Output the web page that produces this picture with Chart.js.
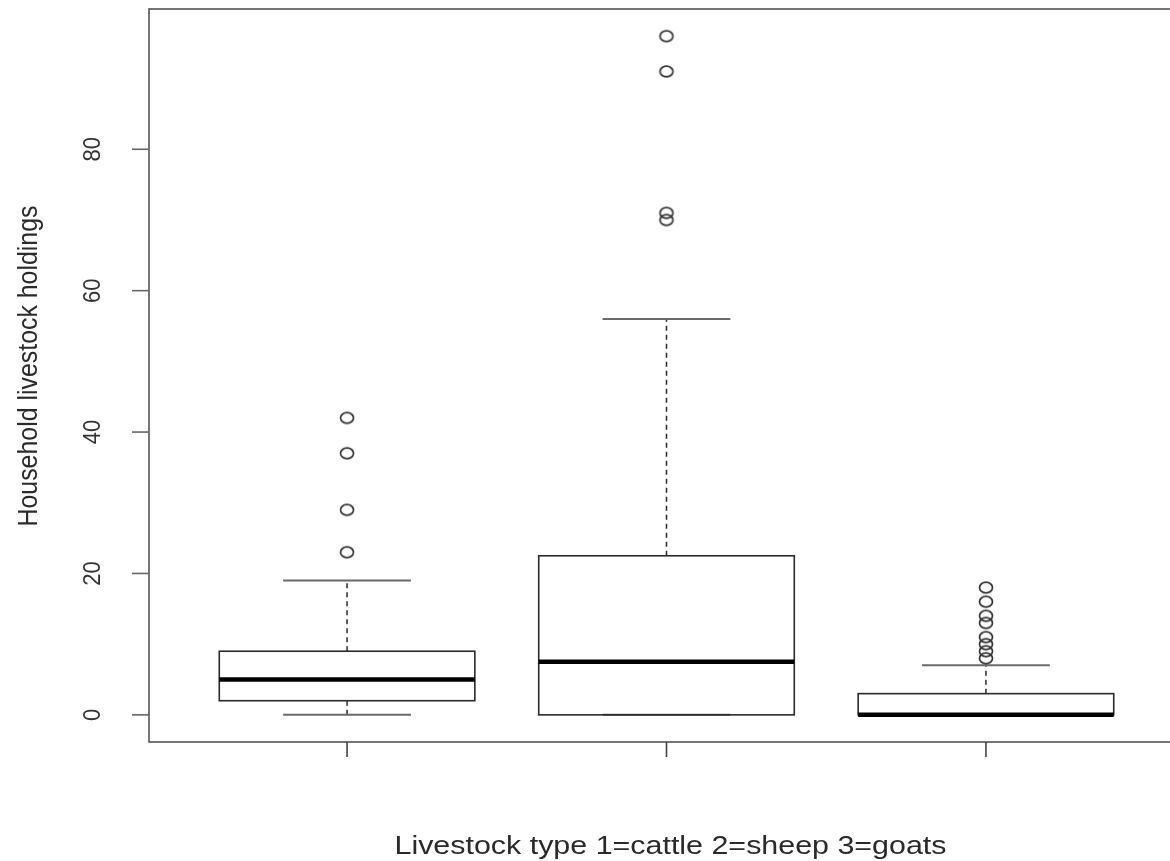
<!DOCTYPE html>
<html><head><meta charset="utf-8">
<script src="https://cdn.jsdelivr.net/npm/chart.js@4"></script>
<style>html,body{margin:0;padding:0;background:#fff;overflow:hidden;width:1170px;height:861px}
canvas{display:block}</style></head>
<body><canvas id="c" width="1192" height="861"></canvas>
<script>
// Data
const categories = ['cattle', 'sheep', 'goats'];
const categoryPos = [1, 2, 3];
const whiskerLow = [0, 0, 0];
const q1 = [2, 0, 0];
const median = [5, 7.5, 0];
const q3 = [9, 22.5, 3];
const whiskerHigh = [19, 56, 7];
const cattleOutliers = [23, 29, 37, 42];
const sheepOutliers = [70, 71, 91, 96];
const goatOutliers = [8, 9, 10, 11, 13, 14, 16, 18];
const yTicks = [0, 20, 40, 60, 80];
const xTitle = 'Livestock type 1=cattle 2=sheep 3=goats';
const yTitle = 'Household livestock holdings';

const outlierSets = [cattleOutliers, sheepOutliers, goatOutliers];
const outlierPoints = [];
outlierSets.forEach((arr, i) => arr.forEach(v => outlierPoints.push({x: categoryPos[i], y: v})));

// ellipse marker (reference circles are slightly wide)
const mk = document.createElement('canvas');
mk.width = 18; mk.height = 15;
(function(){
  const g = mk.getContext('2d');
  g.strokeStyle = '#333'; g.lineWidth = 1.7;
  g.beginPath(); g.ellipse(9, 7.5, 6.5, 5.3, 0, 0, Math.PI*2); g.stroke();
})();

const LINE = '#2a2a2a';
const FONT = '"Liberation Sans", Arial, Helvetica, sans-serif';

const boxPlugin = {
  id: 'boxPlugin',
  beforeDatasetsDraw(chart) {
    const ctx = chart.ctx, xs = chart.scales.x, ys = chart.scales.y, a = chart.chartArea;
    ctx.save();
    // frame
    ctx.strokeStyle = '#555'; ctx.lineWidth = 1.6;
    ctx.strokeRect(a.left, a.top, a.right - a.left, a.bottom - a.top);
    // y ticks & labels
    ctx.fillStyle = '#333';
    ctx.font = '22px ' + FONT;
    yTicks.forEach(t => {
      const py = ys.getPixelForValue(t);
      ctx.strokeStyle = '#666';
      ctx.beginPath(); ctx.moveTo(a.left, py); ctx.lineTo(a.left - 17, py); ctx.stroke();
      ctx.save(); ctx.translate(100, py); ctx.rotate(-Math.PI/2);
      ctx.scale(1, 1.05);
      ctx.textAlign = 'center'; ctx.textBaseline = 'alphabetic';
      ctx.fillText(String(t), 0, 0);
      ctx.restore();
    });
    // x ticks
    ctx.strokeStyle = '#444';
    categoryPos.forEach(p => {
      const px = xs.getPixelForValue(p);
      ctx.beginPath(); ctx.moveTo(px, a.bottom); ctx.lineTo(px, a.bottom + 15); ctx.stroke();
    });
    // axis titles
    ctx.fillStyle = '#2a2a2a';
    ctx.font = '25px ' + FONT;
    ctx.save();
    const xc = (a.left + a.right) / 2;
    const w = ctx.measureText(xTitle).width;
    ctx.translate(xc + 4, 854); ctx.scale(552 / w, 1);
    ctx.textAlign = 'center'; ctx.fillText(xTitle, 0, 0);
    ctx.restore();
    ctx.save();
    ctx.font = '23px ' + FONT;
    const wy = ctx.measureText(yTitle).width;
    ctx.translate(37, 366); ctx.rotate(-Math.PI/2);
    ctx.scale(321 / wy, 1.22);
    ctx.textAlign = 'center'; ctx.fillText(yTitle, 0, 0);
    ctx.restore();
    // boxes
    categoryPos.forEach((p, i) => {
      const cx = xs.getPixelForValue(p);
      const half = xs.getPixelForValue(p + 0.4) - cx;
      const cap = half / 2;
      const yq1 = ys.getPixelForValue(q1[i]), yq3 = ys.getPixelForValue(q3[i]);
      const ylo = ys.getPixelForValue(whiskerLow[i]), yhi = ys.getPixelForValue(whiskerHigh[i]);
      const ymed = ys.getPixelForValue(median[i]);
      ctx.strokeStyle = LINE; ctx.lineWidth = 1.5;
      ctx.setLineDash([5, 4]);
      ctx.beginPath(); ctx.moveTo(cx, yq3); ctx.lineTo(cx, yhi); ctx.stroke();
      if (whiskerLow[i] < q1[i]) { ctx.beginPath(); ctx.moveTo(cx, yq1); ctx.lineTo(cx, ylo); ctx.stroke(); }
      ctx.setLineDash([]);
      ctx.strokeStyle = '#6a6a6a'; ctx.lineWidth = 2;
      ctx.beginPath(); ctx.moveTo(cx - cap, yhi); ctx.lineTo(cx + cap, yhi); ctx.stroke();
      ctx.beginPath(); ctx.moveTo(cx - cap, ylo); ctx.lineTo(cx + cap, ylo); ctx.stroke();
      ctx.strokeStyle = LINE; ctx.lineWidth = 1.6;
      ctx.strokeRect(cx - half, yq3, 2 * half, yq1 - yq3);
      ctx.strokeStyle = '#000'; ctx.lineWidth = 4.5;
      ctx.beginPath(); ctx.moveTo(cx - half, ymed); ctx.lineTo(cx + half, ymed); ctx.stroke();
    });
    ctx.restore();
  }
};

new Chart(document.getElementById('c'), {
  type: 'scatter',
  data: { datasets: [{
    label: 'outliers', data: outlierPoints,
    pointStyle: mk, pointRadius: 7, pointHoverRadius: 7
  }]},
  options: {
    responsive: false, animation: false,
    layout: { padding: { left: 149, top: 9, right: 8, bottom: 119 } },
    plugins: { legend: { display: false }, tooltip: { enabled: false } },
    scales: {
      x: { type: 'linear', min: 0.38, max: 3.62, display: false },
      y: { type: 'linear', min: -3.84, max: 99.84, display: false }
    }
  },
  plugins: [boxPlugin]
});
</script></body></html>
